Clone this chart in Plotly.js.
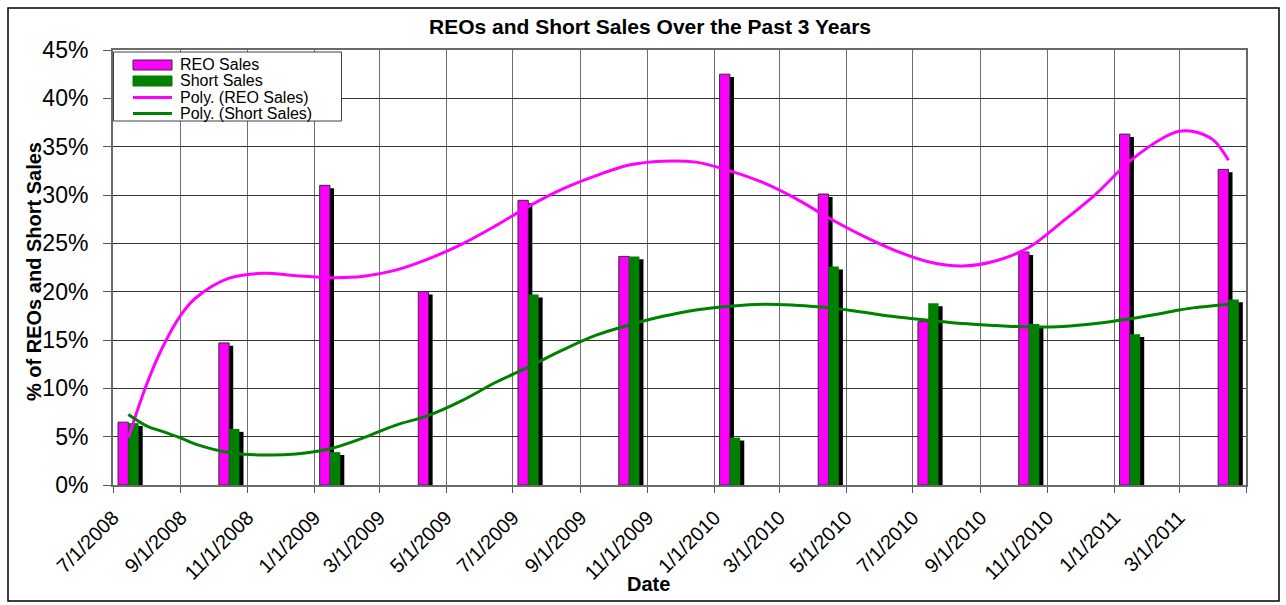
<!DOCTYPE html>
<html><head><meta charset="utf-8">
<script src="https://cdn.plot.ly/plotly-3.0.1.min.js"></script>
<style>html,body{margin:0;padding:0;background:#fff}#chart{width:1286px;height:605px}</style>
</head><body><div id="chart"></div>
<script>
// ---- data ----
const barDates = ['2008-07-15','2008-10-15','2009-01-15','2009-04-15','2009-07-15','2009-10-15','2010-01-15','2010-04-15','2010-07-15','2010-10-15','2011-01-15','2011-04-15'];
const reoSales   = [6.5, 14.7, 31.0, 20.0, 29.45, 23.65, 42.5, 30.1, 16.9, 24.1, 36.3, 32.65];
const shortSales = [6.4, 5.8, 3.4, 0, 19.7, 23.65, 4.9, 22.6, 18.8, 16.65, 15.6, 19.2];

const trendDates = ['2008-07-15','2008-08-01','2008-08-15','2008-09-01','2008-09-15','2008-10-15','2008-11-15','2008-12-15',
  '2009-01-15','2009-02-15','2009-03-15','2009-04-15','2009-05-15','2009-06-15','2009-07-15','2009-08-15','2009-09-15','2009-10-15','2009-11-15','2009-12-15',
  '2010-01-15','2010-02-15','2010-03-15','2010-04-15','2010-05-15','2010-06-15','2010-07-15','2010-08-15','2010-09-15','2010-10-15','2010-11-15','2010-12-15',
  '2011-01-15','2011-02-15','2011-03-01','2011-03-15','2011-04-01','2011-04-15'];
const reoTrend = [4.9, 10.5, 14.2, 17.6, 19.4, 21.4, 21.9, 21.65,
  21.45, 21.6, 22.2, 23.4, 24.9, 26.8, 28.8, 30.6, 32.0, 33.1, 33.5, 33.4,
  32.5, 31.25, 29.7, 27.65, 25.85, 24.25, 23.1, 22.65, 23.2, 24.6, 27.3, 30.1,
  33.5, 35.95, 36.6, 36.55, 35.7, 33.6];
const shortTrend = [7.3, 6.1, 5.55, 4.85, 4.2, 3.35, 3.1, 3.2,
  3.75, 4.9, 6.15, 7.2, 8.7, 10.6, 12.2, 13.95, 15.5, 16.55, 17.45, 18.1,
  18.5, 18.7, 18.6, 18.35, 17.9, 17.4, 17.05, 16.7, 16.5, 16.35, 16.4, 16.7,
  17.2, 17.8, 18.1, 18.35, 18.55, 18.7];

const xTickVals = ['2008-07-01','2008-09-01','2008-11-01','2009-01-01','2009-03-01','2009-05-01','2009-07-01','2009-09-01','2009-11-01',
  '2010-01-01','2010-03-01','2010-05-01','2010-07-01','2010-09-01','2010-11-01','2011-01-01','2011-03-01','2011-05-01'];
const xTickText = ['7/1/2008','9/1/2008','11/1/2008','1/1/2009','3/1/2009','5/1/2009','7/1/2009','9/1/2009','11/1/2009',
  '1/1/2010','3/1/2010','5/1/2010','7/1/2010','9/1/2010','11/1/2010','1/1/2011','3/1/2011',''];

const seriesNames = ['REO Sales','Short Sales','Poly. (REO Sales)','Poly. (Short Sales)'];
const chartTitle = 'REOs and Short Sales Over the Past 3 Years';
const yTitle = '% of REOs and Short Sales';
const xTitle = 'Date';

// ---- styles ----
const MAGENTA = '#FF00FF', GREEN = '#008000';
const L = 113, R = 1246, T = 50, B = 485;
const px = v => (v - L) / (R - L);
const py = v => (B - v) / (B - T);
const DAY = 86400000;
const barW = 9.4 * DAY, shift = 3.7 * DAY, SHADOW_DROP = -0.3;
const FONT = '"Liberation Sans", Arial, sans-serif';

const traces = [
  {type:'bar', x:barDates, y:reoSales, base:SHADOW_DROP, width:barW, offset:-barW + shift, marker:{color:'#000'}, hoverinfo:'skip', showlegend:false},
  {type:'bar', x:barDates, y:shortSales, base:SHADOW_DROP, width:barW, offset:shift, marker:{color:'#000'}, hoverinfo:'skip', showlegend:false},
  {type:'bar', name:seriesNames[0], x:barDates, y:reoSales, width:barW, offset:-barW, marker:{color:MAGENTA, line:{color:'#303030', width:1}}},
  {type:'bar', name:seriesNames[1], x:barDates, y:shortSales, width:barW, offset:0, marker:{color:GREEN, line:{width:0}}},
  {type:'scatter', mode:'lines', name:seriesNames[2], x:trendDates, y:reoTrend, line:{color:MAGENTA, width:3, shape:'spline'}},
  {type:'scatter', mode:'lines', name:seriesNames[3], x:trendDates, y:shortTrend, line:{color:GREEN, width:3, shape:'spline'}}
];

const rows = [65, 81, 97.5, 113.5];
const shapes = [
  {type:'rect', xref:'paper', yref:'paper', x0:px(8), x1:px(1279), y0:py(601), y1:py(8), line:{color:'#000', width:1.5}, layer:'above'},
  {type:'rect', xref:'paper', yref:'paper', x0:px(113.5), x1:px(341.5), y0:py(121), y1:py(52), line:{color:'#404040', width:1}, fillcolor:'#fff', layer:'above'},
  {type:'rect', xref:'paper', yref:'paper', x0:px(133), x1:px(172), y0:py(rows[0]+5), y1:py(rows[0]-5), line:{color:'#303030', width:1}, fillcolor:MAGENTA, layer:'above'},
  {type:'rect', xref:'paper', yref:'paper', x0:px(133), x1:px(172), y0:py(rows[1]+5), y1:py(rows[1]-5), line:{color:GREEN, width:1}, fillcolor:GREEN, layer:'above'},
  {type:'line', xref:'paper', yref:'paper', x0:px(133), x1:px(172), y0:py(rows[2]), y1:py(rows[2]), line:{color:MAGENTA, width:3}, layer:'above'},
  {type:'line', xref:'paper', yref:'paper', x0:px(133), x1:px(172), y0:py(rows[3]), y1:py(rows[3]), line:{color:GREEN, width:3}, layer:'above'}
];
const annotations = seriesNames.map((n, i) => ({
  text:n, xref:'paper', yref:'paper', x:px(178), y:py(rows[i]), xanchor:'left', yanchor:'middle', showarrow:false, font:{size:16, color:'#000'}
}));
annotations.push({text:'<b>' + yTitle + '</b>', xref:'paper', yref:'paper', x:px(34), y:py(272), xanchor:'center', yanchor:'middle', textangle:-90, showarrow:false, font:{size:20, color:'#000'}});
annotations.push({text:'<b>' + xTitle + '</b>', xref:'paper', yref:'paper', x:px(648), y:py(584), xanchor:'center', yanchor:'middle', showarrow:false, font:{size:20, color:'#000'}});

const layout = {
  width:1286, height:605,
  margin:{l:L, r:1286 - R, t:T, b:605 - B, pad:0},
  paper_bgcolor:'#fff', plot_bgcolor:'#fff',
  font:{family:FONT, color:'#000'},
  barmode:'overlay',
  showlegend:false,
  title:{text:'<b>' + chartTitle + '</b>', font:{size:21, color:'#000'}, xref:'paper', x:px(650), xanchor:'center', yref:'container', y:1 - 27/605, yanchor:'middle'},
  xaxis:{type:'date', range:['2008-07-01','2011-05-01'], tickmode:'array', tickvals:xTickVals, ticktext:xTickText, tickangle:-45,
    tickfont:{size:20}, ticks:'outside', ticklen:6, tickcolor:'#555', ticklabelstandoff:5, showgrid:true, gridcolor:'#6e6e6e', gridwidth:1,
    showline:true, linecolor:'#6a6a6a', linewidth:2, mirror:true, zeroline:false, automargin:false, fixedrange:true},
  yaxis:{range:[0, 45], tickmode:'linear', tick0:0, dtick:5, ticksuffix:'%', tickfont:{size:23},
    ticks:'outside', ticklen:8, tickcolor:'#555', ticklabelstandoff:10, showgrid:true, gridcolor:'#333', gridwidth:1,
    showline:true, linecolor:'#6a6a6a', linewidth:2, mirror:true, zeroline:false, automargin:false, fixedrange:true},
  shapes:shapes,
  annotations:annotations
};

Plotly.newPlot('chart', traces, layout, {staticPlot:true, displayModeBar:false});
</script>
</body></html>
